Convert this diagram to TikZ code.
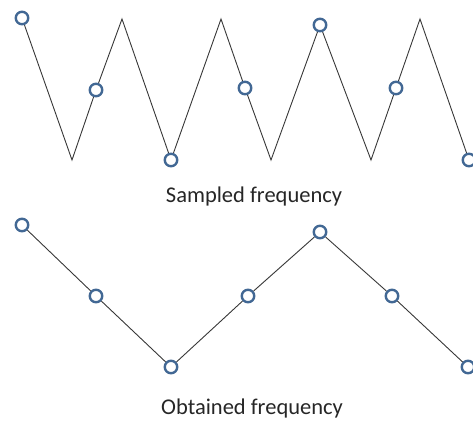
\documentclass[tikz,border=0pt]{standalone}
\usepackage{fontspec}
\setmainfont{Carlito}
\definecolor{ringblue}{RGB}{66,104,148}
\definecolor{wire}{RGB}{55,55,55}
\begin{document}
\begin{tikzpicture}[x=1pt,y=-1pt,
  ring/.style={circle,draw=ringblue,line width=2.4pt,fill=white,minimum size=12.5pt,inner sep=0pt},
  wave/.style={draw=wire,line width=0.9pt,line join=miter},
  caption/.style={anchor=base,font=\fontsize{22.5}{27}\selectfont,text=black!85}]
\useasboundingbox (0,0) rectangle (473,421);
% top wave vertices
\coordinate (v1) at (72,160);
\coordinate (p1) at (122,19);
\coordinate (p2) at (221,19);
\coordinate (v3) at (271,160);
\coordinate (v4) at (371,160);
\coordinate (p4) at (420,19);
\path (22,18) node[ring] (c1) {}
      (96,90) node[ring] (c2) {}
      (171,160) node[ring] (c3) {}
      (245,88) node[ring] (c4) {}
      (320,25) node[ring] (c5) {}
      (396,88) node[ring] (c6) {}
      (469,160) node[ring] (c7) {};
\draw[wave] (c1) -- (v1) -- (c2) -- (p1) -- (c3) -- (p2) -- (c4) -- (v3) -- (c5) -- (v4) -- (c6) -- (p4) -- (c7);
\node[caption] (t1) at (254,202) {Sampled frequency};
% bottom wave
\path (22,225) node[ring] (d1) {}
      (96,296) node[ring] (d2) {}
      (171,367) node[ring] (d3) {}
      (248,296) node[ring] (d4) {}
      (320,232) node[ring] (d5) {}
      (392,296) node[ring] (d6) {}
      (468,367) node[ring] (d7) {};
\draw[wave] (d1) -- (d2) -- (d3) -- (d4) -- (d5) -- (d6) -- (d7);
\node[caption] (t2) at (252,414) {Obtained frequency};
\end{tikzpicture}
\end{document}
